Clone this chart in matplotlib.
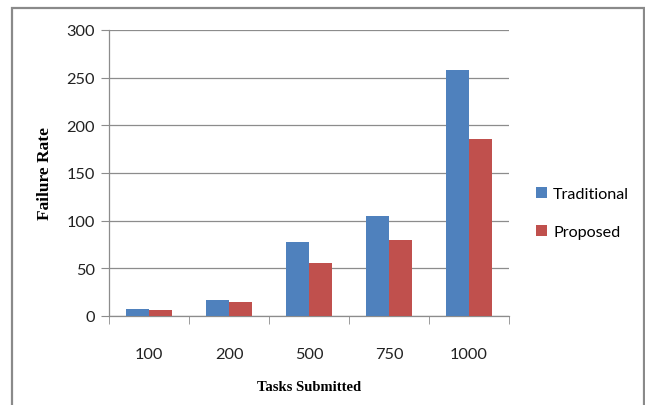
import numpy as np
import matplotlib
matplotlib.use('Agg')
import matplotlib.pyplot as plt
from matplotlib.patches import Rectangle

categories = ['100', '200', '500', '750', '1000']
traditional = [7, 17, 78, 105, 258]
proposed = [6, 15, 56, 80, 186]
yticks = [0, 50, 100, 150, 200, 250, 300]

BLUE = '#4f81bd'
RED = '#c0504d'
GRID = '#8c8c8c'

fig = plt.figure(figsize=(6.45, 4.06), dpi=100)
fig.patch.set_facecolor('white')

# outer chart frame (bottom edge runs off the image)
fig.patches.append(Rectangle((12/645, -0.05), (644-12)/645, 1.05 - 9/406,
                             transform=fig.transFigure, fill=False,
                             edgecolor='#8a8a8a', lw=1.6))

ax = fig.add_axes([109/645, 1 - 317/406, 400/645, (317-31)/406])
x = np.arange(len(categories))
w = 0.285
ax.bar(x - w/2, traditional, w, color=BLUE, label='Traditional', zorder=3)
ax.bar(x + w/2, proposed, w, color=RED, label='Proposed', zorder=3)

ax.set_xlim(-0.5, len(categories) - 0.5)
ax.set_ylim(0, 300)
ax.set_yticks(yticks)
ax.set_xticks(x)
ax.set_xticklabels(categories)
ax.yaxis.grid(True, color=GRID, lw=0.9, zorder=0)
ax.set_axisbelow(True)

for s in ['top', 'right']:
    ax.spines[s].set_visible(False)
for s in ['left', 'bottom']:
    ax.spines[s].set_color(GRID)
    ax.spines[s].set_linewidth(0.9)

# category boundary ticks on x axis
ax.set_xticks(np.arange(len(categories) + 1) - 0.5, minor=True)
ax.tick_params(axis='x', which='major', length=0, pad=22, labelsize=11.8, labelcolor='#222222')
ax.tick_params(axis='x', which='minor', length=6, color=GRID, direction='out')
ax.tick_params(axis='y', length=6, color=GRID, labelsize=11.8, labelcolor='#222222', pad=4)
for lbl in ax.get_xticklabels() + ax.get_yticklabels():
    lbl.set_family('Lato')

ax.set_xlabel('Tasks Submitted', family='Liberation Serif', fontweight='bold',
              fontsize=10.5, labelpad=14)
ax.set_ylabel('Failure Rate', family='Liberation Serif', fontweight='bold',
              fontsize=12.5, labelpad=10)

leg = fig.legend(loc='center left', bbox_to_anchor=(521/645, 1 - 214/406),
                 frameon=False, prop={'family': 'Lato', 'size': 11.6},
                 handlelength=0.7, handleheight=0.7, handletextpad=0.4,
                 labelspacing=1.5)

fig.savefig('out.png', dpi=100, facecolor='white')
